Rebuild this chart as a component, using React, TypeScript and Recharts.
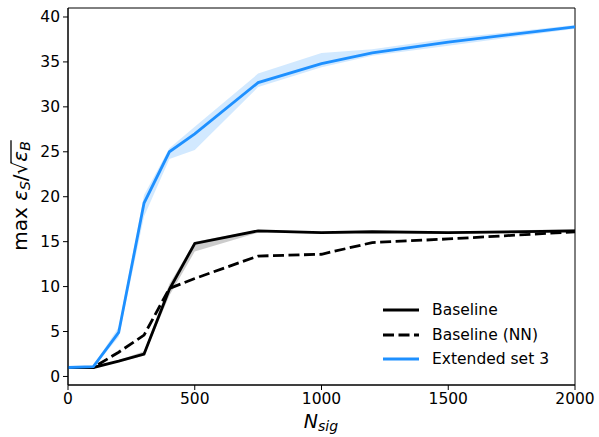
import React, { useLayoutEffect, useRef, useState } from "react";
import {
  ComposedChart,
  Line,
  Area,
  XAxis,
  YAxis,
  ReferenceArea
} from "recharts";

const nSig = [0, 100, 200, 300, 400, 500, 750, 1000, 1200, 1500, 2000];

const baseline = [1.0, 1.0, 1.7, 2.5, 9.7, 14.8, 16.2, 16.0, 16.1, 16.0, 16.2];
const baselineLo = [1.0, 1.0, 1.6, 2.3, 9.0, 13.9, 16.0, 15.9, 16.0, 15.9, 16.0];
const baselineHi = [1.0, 1.0, 1.8, 2.8, 10.3, 15.0, 16.3, 16.1, 16.2, 16.1, 16.4];

const baselineNN = [1.0, 1.0, 2.7, 4.6, 9.8, 10.9, 13.4, 13.6, 14.9, 15.3, 16.1];

const ext3 = [1.0, 1.1, 4.9, 19.3, 25.0, 27.0, 32.7, 34.8, 36.0, 37.2, 38.9];
const ext3Lo = [0.9, 1.0, 4.4, 17.8, 24.2, 25.2, 32.2, 34.4, 35.7, 36.8, 38.7];
const ext3Hi = [1.1, 1.2, 5.5, 20.2, 25.4, 27.8, 33.7, 36.0, 36.4, 37.6, 39.1];

const xTicks = [0, 500, 1000, 1500, 2000];
const yTicks = [0, 5, 10, 15, 20, 25, 30, 35, 40];

const dash = "11 4.5";

const legendItems = [
  { name: "Baseline", color: "#000", dash: undefined },
  { name: "Baseline (NN)", color: "#000", dash },
  { name: "Extended set 3", color: "#1e90ff", dash: undefined }
];

const data = nSig.map((n, i) => ({
  n,
  baseline: baseline[i],
  baselineBand: [baselineLo[i], baselineHi[i]],
  nn: baselineNN[i],
  ext3: ext3[i],
  ext3Band: [ext3Lo[i], ext3Hi[i]]
}));

const font = "DejaVu Sans, sans-serif";

function LegendBox() {
  return (
    <div
      style={{
        position: "absolute",
        left: 382,
        top: 298,
        fontFamily: font,
        fontSize: 15.5,
        color: "#000",
        lineHeight: "24.5px"
      }}
    >
      {legendItems.map((it) => (
        <div key={it.name} style={{ display: "flex", alignItems: "center", height: 24.5 }}>
          <svg width={38} height={6} style={{ marginRight: 12 }}>
            <line x1={1} y1={3} x2={37} y2={3} stroke={it.color} strokeWidth={2.8} strokeDasharray={it.dash} />
          </svg>
          <span>{it.name}</span>
        </div>
      ))}
    </div>
  );
}

// y label: max ε_S/√(ε_B) with the vinculum drawn as a line
function YLabel() {
  const ref = useRef<SVGTextElement>(null);
  const [bar, setBar] = useState<{ x1: number; x2: number } | null>(null);
  const fs = 20;
  useLayoutEffect(() => {
    const t = ref.current;
    if (!t) return;
    const s = t.getExtentOfChar(7);
    const e = t.getExtentOfChar(9);
    setBar({ x1: s.x + s.width - 1.5, x2: e.x + e.width + 1 });
  }, []);
  return (
    <g transform="translate(27, 196) rotate(-90)">
      <text ref={ref} x={0} y={0} textAnchor="middle" fontFamily={font} fontSize={fs} fill="#000">
        max <tspan fontStyle="italic">ε</tspan>
        <tspan fontStyle="italic" fontSize={14} dy={3}>S</tspan>
        <tspan dy={-3}>/√</tspan>
        <tspan fontStyle="italic">ε</tspan>
        <tspan fontStyle="italic" fontSize={14} dy={3}>B</tspan>
      </text>
      {bar && (
        <line x1={bar.x1} x2={bar.x2} y1={-fs * 0.8} y2={-fs * 0.8} stroke="#000" strokeWidth={1.3} />
      )}
    </g>
  );
}

function XLabel() {
  return (
    <text x={321} y={428} textAnchor="middle" fontFamily={font} fontSize={19} fill="#000">
      <tspan fontStyle="italic">N</tspan>
      <tspan fontStyle="italic" fontSize={14} dy={3}>sig</tspan>
    </text>
  );
}

export default function App() {
  return (
    <div style={{ position: "absolute", left: 0, top: 0, width: 599, height: 437, background: "#fff" }}>
      <ComposedChart
        width={599}
        height={437}
        data={data}
        margin={{ top: 8, right: 24, bottom: 0, left: 0 }}
      >
        <XAxis
          dataKey="n"
          type="number"
          domain={[0, 2000]}
          ticks={xTicks}
          allowDataOverflow
          height={52}
          tickSize={5}
          tickMargin={3}
          stroke="#000"
          tick={{ fill: "#000", fontSize: 15.5, fontFamily: font }}
          label={{ content: () => <XLabel /> }}
        />
        <YAxis
          type="number"
          domain={[-0.95, 41]}
          ticks={yTicks}
          allowDataOverflow
          width={68}
          tickSize={5}
          tickMargin={3}
          stroke="#000"
          tick={{ fill: "#000", fontSize: 15.5, fontFamily: font }}
          label={{ content: () => <YLabel /> }}
        />
        <ReferenceArea x1={0} x2={2000} y1={-0.95} y2={41} fill="none" stroke="#000" strokeWidth={1} />
        <Area
          dataKey="baselineBand"
          type="linear"
          stroke="none"
          fill="#000"
          fillOpacity={0.2}
          isAnimationActive={false}
          legendType="none"
        />
        <Area
          dataKey="ext3Band"
          type="linear"
          stroke="none"
          fill="#1e90ff"
          fillOpacity={0.2}
          isAnimationActive={false}
          legendType="none"
        />
        <Line dataKey="baseline" type="linear" stroke="#000" strokeWidth={2.8} dot={false} isAnimationActive={false} />
        <Line dataKey="nn" type="linear" stroke="#000" strokeWidth={2.8} strokeDasharray={dash} dot={false} isAnimationActive={false} />
        <Line dataKey="ext3" type="linear" stroke="#1e90ff" strokeWidth={2.8} dot={false} isAnimationActive={false} />
      </ComposedChart>
      <LegendBox />
    </div>
  );
}
